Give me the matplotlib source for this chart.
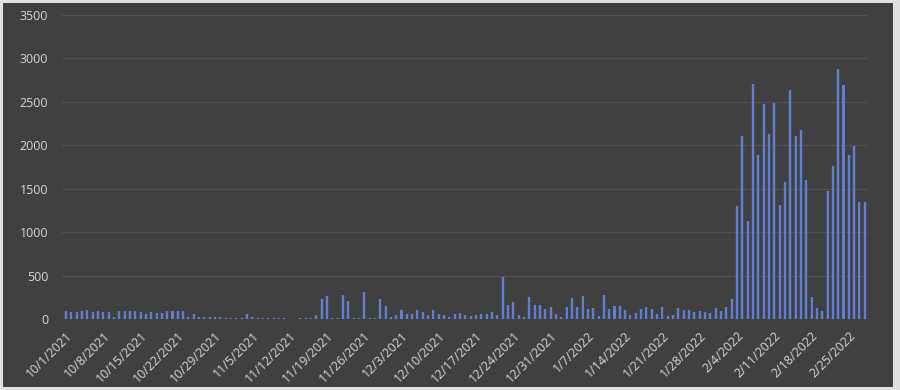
import matplotlib
matplotlib.use("Agg")
import matplotlib.pyplot as plt
from matplotlib.patches import Rectangle
import datetime as dt

start = dt.date(2021, 10, 1)

values = [
    # Oct 1 - Oct 30
    96, 77, 77, 96, 104, 77, 88, 77, 81, 23, 88, 96, 88, 88, 77, 58, 77, 65, 65, 88,
    88, 88, 88, 23, 62, 23, 19, 19, 19, 19,
    # Oct 31 - Dec 1
    15, 15, 12, 12, 54, 19, 12, 12, 12, 12, 12, 12, 0, 0, 12, 12, 12, 46, 231, 266,
    12, 12, 277, 204, 12, 12, 308, 12, 12, 231, 150, 19,
    # Dec 2 - Jan 2
    46, 100, 54, 62, 100, 77, 46, 100, 62, 46, 19, 62, 73, 46, 35, 50, 62, 62, 85, 46,
    489, 162, 193, 46, 27, 250, 162, 162, 112, 135, 58, 19,
    # Jan 3 - Feb 3
    135, 246, 135, 266, 115, 123, 31, 281, 115, 146, 150, 100, 46, 69, 112, 135, 112, 54,
    135, 31, 46, 123, 100, 100, 77, 96, 77, 73, 123, 92, 140, 231,
    # Feb 4 - Feb 28
    1305, 2106, 1124, 2703, 1883, 2472, 2133, 2491, 1317, 1575, 2637, 2106, 2175, 1598,
    258, 123, 96, 1478, 1767, 2884, 2691, 1883, 1990, 1348, 1348,
]

dates = [start + dt.timedelta(days=i) for i in range(len(values))]
date_labels = [f"{d.month}/{d.day}/{d.year}" for d in dates]
tick_step = 7
y_ticks = [0, 500, 1000, 1500, 2000, 2500, 3000, 3500]

BG = "#404040"
BAR = "#5f7fd6"
GLOW = "#6f8fe8"
TXT = "#d6d6d6"
GRID = "#525252"

plt.rcParams["font.family"] = ["Open Sans", "DejaVu Sans"]

fig = plt.figure(figsize=(9, 3.9), dpi=100, facecolor="#e0e0e0")
frame = Rectangle((3 / 900, 3 / 390), 890 / 900, 384 / 390,
                  transform=fig.transFigure, facecolor=BG,
                  edgecolor="none", zorder=-5)
fig.add_artist(frame)
ax = fig.add_axes([62 / 900, 1 - 319 / 390, 806 / 900, 304 / 390])
ax.set_facecolor(BG)
ax.patch.set_alpha(0)

x = list(range(len(values)))
ax.bar(x, values, width=0.72, color=GLOW, alpha=0.16, zorder=2, linewidth=0)
ax.bar(x, values, width=0.38, color=BAR, zorder=3, linewidth=0)

ax.set_xlim(-0.75, len(values) - 0.4)
ax.set_ylim(0, 3500)
ax.set_yticks(y_ticks)
ax.set_yticklabels([str(v) for v in y_ticks], color=TXT, fontsize=9)
ax.yaxis.grid(True, color=GRID, linewidth=0.9)
ax.set_axisbelow(True)

tick_pos = x[::tick_step]
ax.set_xticks(tick_pos)
ax.set_xticklabels([date_labels[i] for i in tick_pos], rotation=45, ha="right",
                   rotation_mode="anchor", color=TXT, fontsize=9)
ax.tick_params(axis="y", length=0, pad=10)
ax.tick_params(axis="x", length=0, pad=7)
for s in ax.spines.values():
    s.set_visible(False)

fig.savefig("out.png", dpi=100, facecolor=fig.get_facecolor())
